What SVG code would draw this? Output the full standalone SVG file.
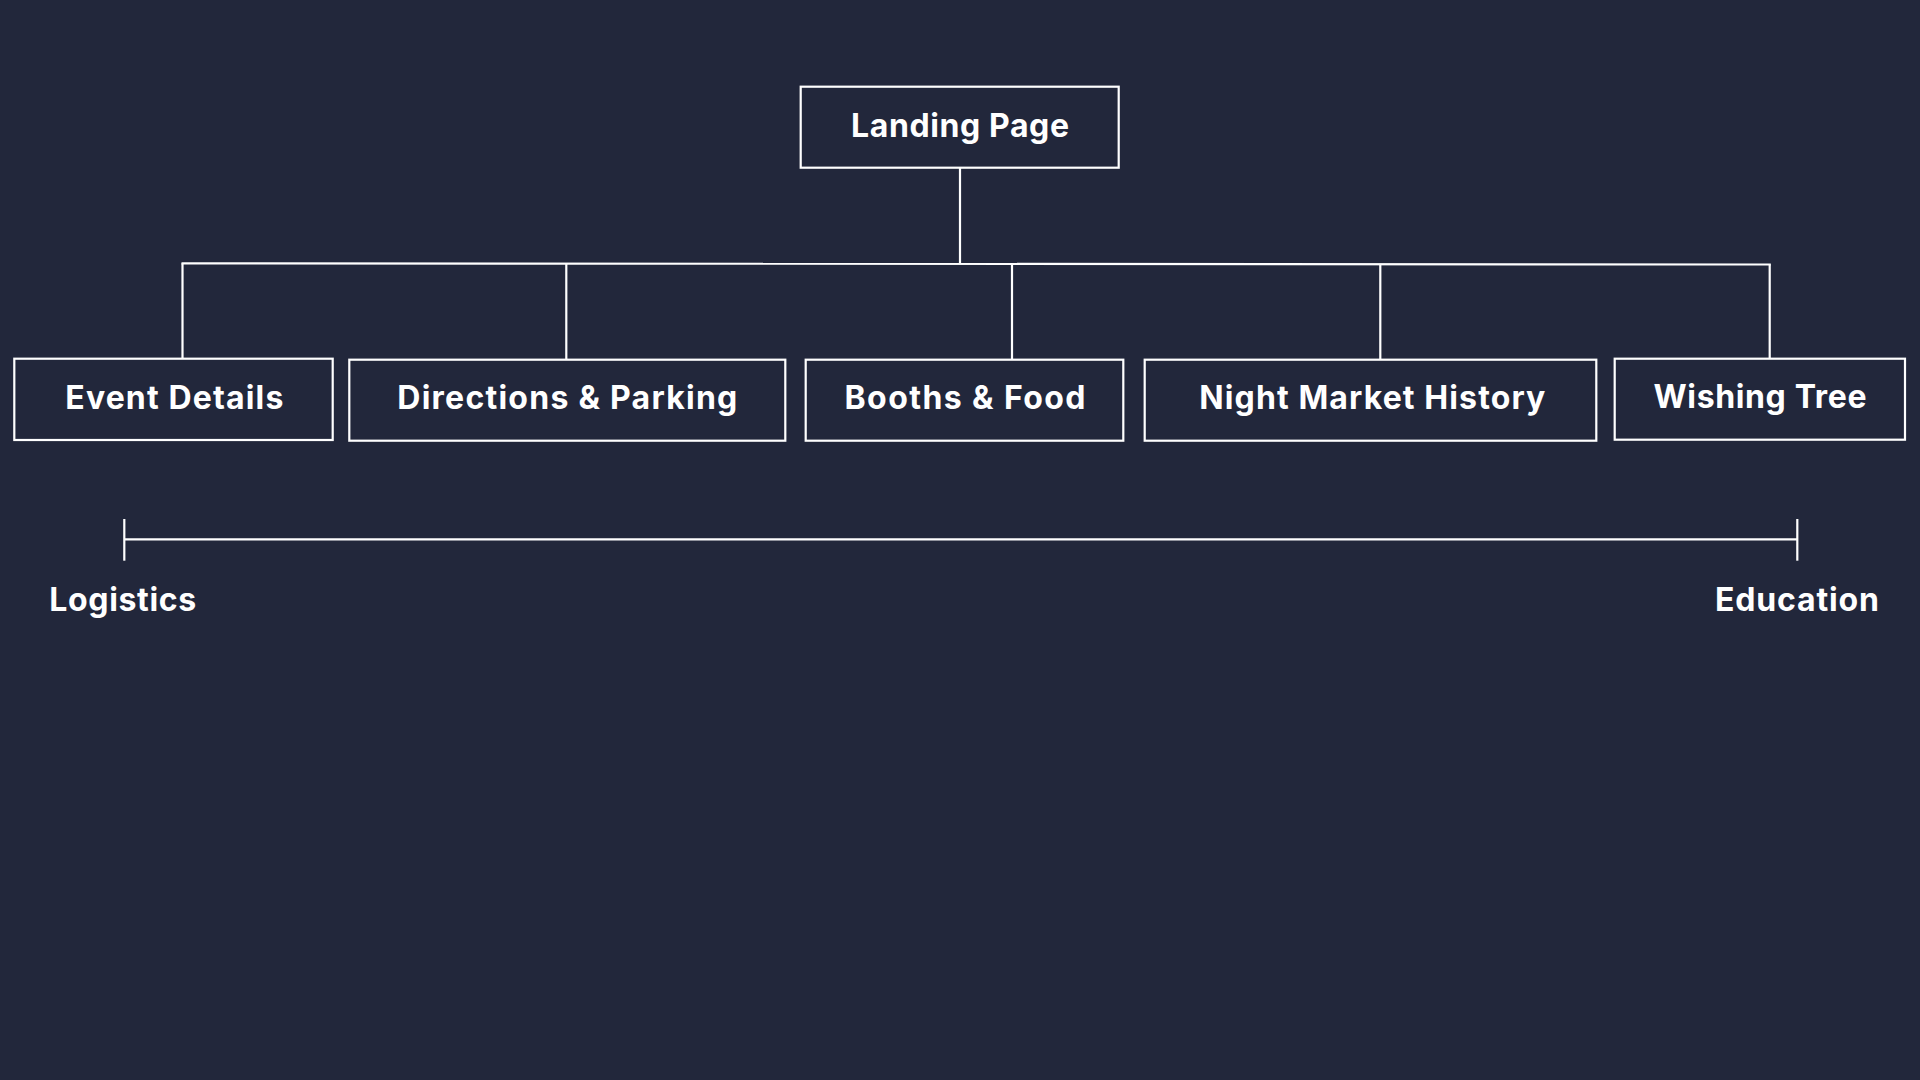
<svg xmlns="http://www.w3.org/2000/svg" width="1920" height="1080" viewBox="0 0 1920 1080">
  <style>
    .box { fill: none; stroke: #ffffff; stroke-width: 2.2; }
    .lbl { font-family: Inter, "Open Sans", "Liberation Sans", sans-serif; font-weight: 700; font-size: 32px; fill: #ffffff; text-anchor: middle; }
    .conn { fill: none; stroke: #ffffff; stroke-width: 2.2; }
  </style>
  <rect width="1920" height="1080" fill="#22273b"/>
  <g id="connectors">
    <line class="conn" x1="960" y1="167.7" x2="960" y2="263.5"/>
    <line class="conn" x1="181.5" y1="263.3" x2="1770.8" y2="264.5"/>
    <line class="conn" x1="182.5" y1="263.3" x2="182.5" y2="358.7"/>
    <line class="conn" x1="566.3" y1="263.6" x2="566.3" y2="359.7"/>
    <line class="conn" x1="1012" y1="263.9" x2="1012" y2="359.7"/>
    <line class="conn" x1="1380.3" y1="264.2" x2="1380.3" y2="359.7"/>
    <line class="conn" x1="1769.7" y1="264.5" x2="1769.7" y2="358.7"/>
  </g>
  <g id="node-landing">
    <rect class="box" x="800.7" y="86.7" width="318" height="81"/>
    <text class="lbl" x="960" y="136.7" textLength="218" lengthAdjust="spacing">Landing Page</text>
  </g>
  <g id="node-event-details">
    <rect class="box" x="14.3" y="358.7" width="318.4" height="81.3"/>
    <text class="lbl" x="174.3" y="408.7" textLength="218" lengthAdjust="spacing">Event Details</text>
  </g>
  <g id="node-directions">
    <rect class="box" x="349.3" y="359.7" width="436" height="81"/>
    <text class="lbl" x="567.3" y="409.3" textLength="340" lengthAdjust="spacing">Directions &amp; Parking</text>
  </g>
  <g id="node-booths">
    <rect class="box" x="805.7" y="359.7" width="317.6" height="81"/>
    <text class="lbl" x="965" y="409.3" textLength="241" lengthAdjust="spacing">Booths &amp; Food</text>
  </g>
  <g id="node-history">
    <rect class="box" x="1144.7" y="359.7" width="451.6" height="81"/>
    <text class="lbl" x="1372.3" y="409.3" textLength="346" lengthAdjust="spacing">Night Market History</text>
  </g>
  <g id="node-wishing">
    <rect class="box" x="1614.7" y="358.7" width="290.3" height="81"/>
    <text class="lbl" x="1760" y="408" textLength="213" lengthAdjust="spacing">Wishing Tree</text>
  </g>
  <g id="scale">
    <line class="conn" x1="124.3" y1="539.3" x2="1797.3" y2="539.3"/>
    <line class="conn" x1="124.3" y1="519" x2="124.3" y2="560.7"/>
    <line class="conn" x1="1797.3" y1="519" x2="1797.3" y2="560.7"/>
    <text class="lbl" x="122.7" y="611" textLength="147" lengthAdjust="spacing">Logistics</text>
    <text class="lbl" x="1797" y="611" textLength="164" lengthAdjust="spacing">Education</text>
  </g>
</svg>
